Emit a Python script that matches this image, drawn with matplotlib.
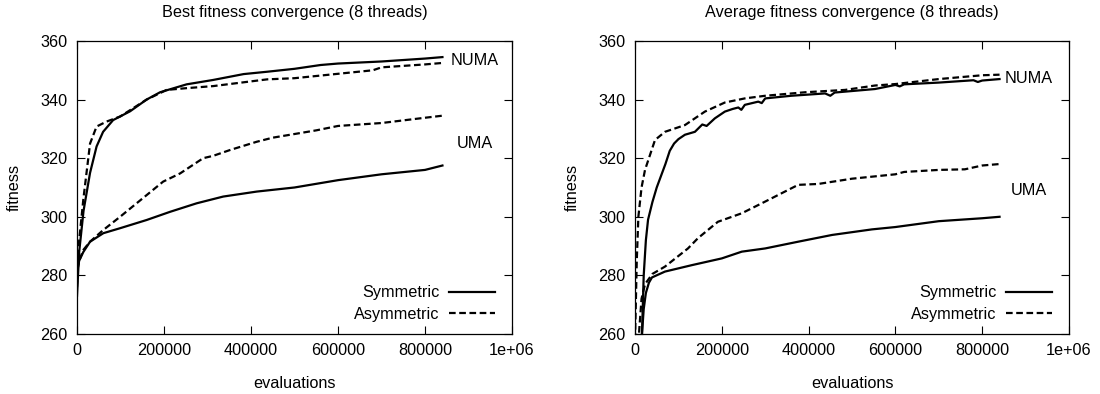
import numpy as np
import matplotlib.pyplot as plt

plt.rcParams['font.family'] = ['Liberation Sans', 'DejaVu Sans']

# best fitness
best_numa_sym_x = [0, 5000, 15000, 30000, 45000, 60000, 83000, 122000, 160000, 191000,
                   252000, 313000, 383000, 437000, 500000, 560000, 600000, 700000,
                   800000, 840000]
best_numa_sym = [273, 288, 302, 315, 324, 329, 333, 336, 340, 342.5,
                 345.2, 346.7, 348.7, 349.5, 350.5, 351.8, 352.3, 353, 354, 354.5]
best_numa_asym_x = [0, 5000, 14600, 30000, 45000, 68000, 99000, 160000, 206000, 252000,
                    313000, 437000, 500000, 600000, 680000, 700000, 800000, 840000]
best_numa_asym = [276, 292, 306, 325, 330.8, 332.5, 334.2, 340, 343.3, 343.9,
                  344.6, 346.9, 347.3, 348.8, 350, 351, 352, 352.5]
best_uma_sym_x = [0, 5000, 14600, 30000, 60500, 99000, 160000, 214000, 275000, 336000,
                  413000, 500000, 600000, 700000, 800000, 840000]
best_uma_sym = [281, 285, 288, 291.5, 294.4, 296.1, 298.9, 301.7, 304.6, 306.9,
                308.6, 310, 312.5, 314.5, 316, 317.5]
best_uma_asym_x = [0, 5000, 14600, 30000, 60500, 99000, 137000, 198000, 237000, 290000,
                   313000, 352000, 413000, 450000, 550000, 600000, 700000, 800000, 840000]
best_uma_asym = [282, 285, 288.7, 291.5, 295.5, 300, 304.6, 312, 314.8, 320,
                 320.8, 322.8, 325.6, 327, 329.5, 331, 332, 333.8, 334.5]

# average fitness
avg_numa_sym_x = [10000, 16000, 20000, 25000, 30000, 40000, 50000, 60000, 70000, 80000,
                  90000, 100000, 115000, 138000, 155000, 165000, 184000, 207000, 225000,
                  238000, 245000, 253000, 284000, 292000, 300000, 360000, 438000, 450000,
                  460000, 553000, 600000, 610000, 620000, 700000, 780000, 790000,
                  800000, 840000]
avg_numa_sym = [245, 260, 280, 292, 299, 305, 310, 314, 318, 322.5,
                325, 326.5, 328, 329, 331.5, 331, 333.6, 335.9, 336.8,
                337.3, 336.5, 338.2, 339.3, 338.8, 340.4, 341.3, 342.1, 341.3,
                342.4, 343.6, 345, 344.5, 345.2, 345.8, 346.6, 346,
                346.5, 347]
avg_numa_asym_x = [0, 4000, 7700, 15000, 23000, 46000, 69000, 115000, 161000, 207000,
                   253000, 300000, 392000, 484000, 553000, 600000, 700000, 800000, 840000]
avg_numa_asym = [258, 285, 300, 310, 316, 326.2, 329, 331.3, 335.9, 339,
                 340.4, 341.3, 342.5, 343.3, 344.8, 345.3, 347, 348.3, 348.5]
avg_uma_sym_x = [12000, 16000, 20000, 25000, 32000, 39000, 69000, 131000, 200000, 246000,
                 300000, 376000, 454000, 546000, 600000, 700000, 800000, 840000]
avg_uma_sym = [250, 260, 268.5, 274, 277.5, 279.3, 281.3, 283.5, 285.8, 288.1,
               289.2, 291.5, 293.8, 295.7, 296.5, 298.5, 299.5, 300]
avg_uma_asym_x = [5000, 10000, 15000, 23000, 40000, 69000, 122000, 145000, 191000, 246000,
                  300000, 376000, 422000, 500000, 600000, 620000, 700000, 760000,
                  800000, 840000]
avg_uma_asym = [250, 262, 272, 277, 280.5, 283, 289.2, 292.7, 298.3, 301.2,
                305.2, 310.9, 311.2, 313, 314.5, 315.3, 316, 316.2, 317.5, 318]

dash = (0, (3, 1.6))
FS = 11.7

fig = plt.figure(figsize=(11, 3.94), dpi=100)
ax1 = fig.add_axes([0.070, 0.1523, 0.3955, 0.7437])
ax2 = fig.add_axes([0.5773, 0.1523, 0.3945, 0.7437])


def setup(ax, title):
    ax.set_xlim(0, 1e6)
    ax.set_ylim(260, 360)
    ax.set_xticks([0, 200000, 400000, 600000, 800000, 1000000])
    ax.set_xticklabels(['0', '200000', '400000', '600000', '800000', '1e+06'])
    ax.set_yticks([260, 280, 300, 320, 340, 360])
    ax.tick_params(direction='in', top=True, right=True, length=6, width=0.8,
                   labelsize=FS)
    ax.tick_params(axis='y', pad=7)
    ax.tick_params(axis='x', pad=6.5)
    for s in ax.spines.values():
        s.set_linewidth(0.9)
    ax.set_title(title, fontsize=FS, pad=17)
    ax.set_xlabel('evaluations', fontsize=FS, labelpad=13)
    ax.set_ylabel('fitness', fontsize=FS, labelpad=13)


setup(ax1, 'Best fitness convergence (8 threads)')
ax1.plot(best_numa_sym_x, best_numa_sym, color='black', lw=1.6, label='Symmetric')
ax1.plot(best_numa_asym_x, best_numa_asym, color='black', lw=1.6, ls=dash,
         label='Asymmetric')
ax1.plot(best_uma_sym_x, best_uma_sym, color='black', lw=1.6)
ax1.plot(best_uma_asym_x, best_uma_asym, color='black', lw=1.6, ls=dash)
ax1.text(858000, 353.2, 'NUMA', fontsize=FS, va='center')
ax1.text(872000, 325, 'UMA', fontsize=FS, va='center')

setup(ax2, 'Average fitness convergence (8 threads)')
ax2.plot(avg_numa_sym_x, avg_numa_sym, color='black', lw=1.6, label='Symmetric')
ax2.plot(avg_numa_asym_x, avg_numa_asym, color='black', lw=1.6, ls=dash,
         label='Asymmetric')
ax2.plot(avg_uma_sym_x, avg_uma_sym, color='black', lw=1.6)
ax2.plot(avg_uma_asym_x, avg_uma_asym, color='black', lw=1.6, ls=dash)
ax2.text(852000, 347.2, 'NUMA', fontsize=FS, va='center')
ax2.text(865000, 309, 'UMA', fontsize=FS, va='center')

for ax in (ax1, ax2):
    ax.legend(loc='lower right', bbox_to_anchor=(0.96, 0.041), frameon=False,
              markerfirst=False, fontsize=FS, handlelength=2.83,
              handletextpad=0.54, labelspacing=0.4, borderaxespad=0, borderpad=0)

plt.savefig('out.png', dpi=100)
